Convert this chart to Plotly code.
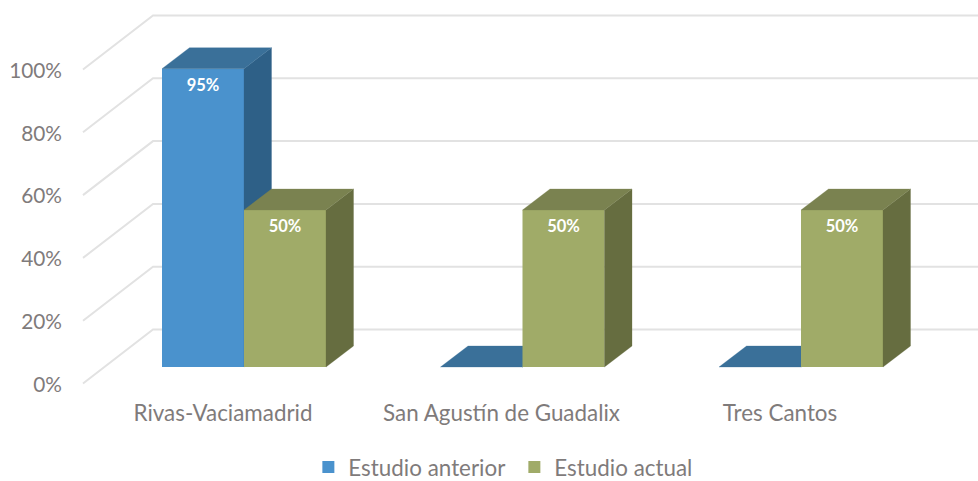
import plotly.graph_objects as go

categories = ["Rivas-Vaciamadrid", "San Agustín de Guadalix", "Tres Cantos"]
estudio_anterior = [95, 0, 0]
estudio_actual = [50, 50, 50]
y_ticks = [0, 20, 40, 60, 80, 100]
y_tick_labels = ["0%", "20%", "40%", "60%", "80%", "100%"]

W, H = 978, 500   # the figure runs a little below the 481px window so the legend box fits in it
PX_X = 278.5      # pixels per category
PX_Y = 3.14       # pixels per percentage point
X0_PX = 244       # pixel of category 0 (join of its two bars)
BAR_FLOOR_PX = 367
WALL_FLOOR_PX = 383.5
FONT = "Lato"
GREY = "#7f7b7b"

x_range = [-X0_PX / PX_X, (W - X0_PX) / PX_X]
bar_y_range = [-(H - BAR_FLOOR_PX) / PX_Y, BAR_FLOOR_PX / PX_Y]
wall_y_range = [-(H - WALL_FLOOR_PX) / PX_Y, WALL_FLOOR_PX / PX_Y]

bar_w = 82 / PX_X
depth_x, depth_y = 27.5 / PX_X, 21 / PX_Y
wall_x0, wall_x1 = (83 - X0_PX) / PX_X, (153 - X0_PX) / PX_X
wall_dy = 54 / PX_Y
positions = list(range(len(categories)))

fig = go.Figure()

# Walls: oblique lines on the left wall and horizontal lines on the back wall
gx, gy = [], []
for v in y_ticks:
    gx += [wall_x0, wall_x1, x_range[1], None]
    gy += [v, v + wall_dy, v + wall_dy, None]
fig.add_trace(go.Scatter(x=gx, y=gy, mode="lines", showlegend=False, hoverinfo="skip",
                         line=dict(color="#e2e2e2", width=2), xaxis="x", yaxis="y"))


def add_series(name, values, side, front, top, shift, xa, ya):
    lefts = [p + shift * bar_w for p in positions]
    fig.add_trace(go.Bar(name=name, x=[l + bar_w / 2 for l in lefts], y=values, width=bar_w,
                         marker=dict(color=front, line=dict(color=front, width=0)),
                         xaxis=xa, yaxis=ya, hoverinfo="skip"))
    sx, sy, tx, ty = [], [], [], []
    for l, v in zip(lefts, values):
        r = l + bar_w
        sx += [r, r + depth_x, r + depth_x, r, r, None]
        sy += [0, depth_y, v + depth_y, v, 0, None]
        tx += [l, r, r + depth_x, l + depth_x, l, None]
        ty += [v, v, v + depth_y, v + depth_y, v, None]
    for px_, py_, col in ((sx, sy, side), (tx, ty, top)):
        fig.add_trace(go.Scatter(x=px_, y=py_, mode="lines", fill="toself", fillcolor=col,
                                 line=dict(color=col, width=0.3), showlegend=False,
                                 hoverinfo="skip", xaxis=xa, yaxis=ya))
    shown = [(l + bar_w / 2, v) for l, v in zip(lefts, values) if v > 0]
    fig.add_trace(go.Scatter(x=[s[0] for s in shown], y=[s[1] - 18 / PX_Y for s in shown],
                             text=[f"{s[1]}%" for s in shown], mode="text",
                             textfont=dict(family=FONT, size=16.5, color="white", weight="bold"),
                             showlegend=False, hoverinfo="skip", xaxis=xa, yaxis=ya))


add_series("Estudio anterior", estudio_anterior, "#2e6087", "#4a92cd", "#3a7099", -1, "x2", "y2")
add_series("Estudio actual", estudio_actual, "#666d40", "#a0ab68", "#7a8250", 0, "x3", "y3")

hidden = dict(visible=False, fixedrange=True)
fig.update_layout(
    width=W, height=H,
    margin=dict(l=0, r=0, t=0, b=0, autoexpand=False),
    paper_bgcolor="white", plot_bgcolor="white",
    barmode="overlay",
    showlegend=True,
    legend=dict(orientation="h", x=0.3153, y=(H - 489) / H, xanchor="left", yanchor="bottom",
                font=dict(family=FONT, size=22.4, color=GREY), entrywidth=161, entrywidthmode="pixels",
                itemclick=False, bgcolor="rgba(0,0,0,0)"),
    font=dict(family=FONT, color=GREY),
    xaxis=dict(range=x_range, domain=[0, 1], anchor="free", position=(H - 398) / H,
               tickmode="array", tickvals=[p - 21 / PX_X for p in positions], ticktext=categories,
               tickfont=dict(family=FONT, size=22.4, color=GREY),
               showgrid=False, zeroline=False, showline=False, ticks="", fixedrange=True),
    yaxis=dict(range=wall_y_range, domain=[0, 1], anchor="free", position=62 / W,
               tickmode="array", tickvals=y_ticks, ticktext=y_tick_labels,
               tickfont=dict(family=FONT, size=20.8, color=GREY), ticklabelshift=1,
               showgrid=False, zeroline=False, showline=False, ticks="", fixedrange=True),
    xaxis2=dict(range=x_range, domain=[0, 1], anchor="y2", overlaying="x", **hidden),
    yaxis2=dict(range=bar_y_range, domain=[0, 1], anchor="x2", overlaying="y", **hidden),
    xaxis3=dict(range=x_range, domain=[0, 1], anchor="y3", overlaying="x", **hidden),
    yaxis3=dict(range=bar_y_range, domain=[0, 1], anchor="x3", overlaying="y", **hidden),
)
fig.write_html("out.html", config={"displayModeBar": False},
               post_script="document.body.style.margin='0';document.body.style.overflow='hidden';")
